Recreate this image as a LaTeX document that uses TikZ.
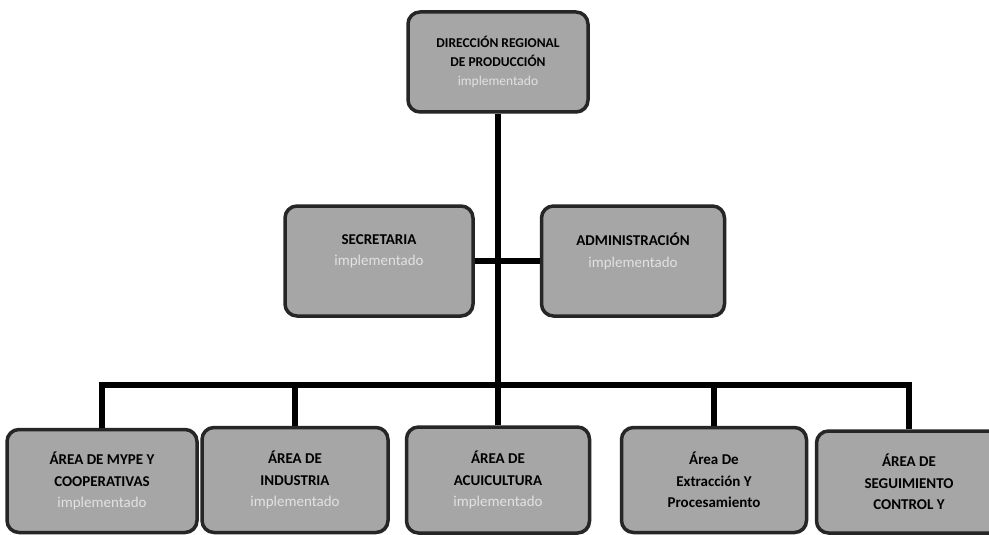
\documentclass[tikz,border=0pt]{standalone}
\usepackage{fontspec}
\setmainfont{Carlito}
\usepackage{tikz}
\usetikzlibrary{shadows}

\definecolor{boxgray}{HTML}{A6A6A6}
\definecolor{implgray}{HTML}{E2E2E2}
\newcommand{\implem}{\textcolor{implgray}{\mdseries implementado}}

\begin{document}
\begin{tikzpicture}[x=1pt,y=-1pt,
  caja/.style={draw=black!85,line width=3.5pt,rounded corners=12pt,fill=boxgray,
    align=center,font=\fontsize{15}{21.5}\selectfont\bfseries,
    drop shadow={shadow xshift=1.5pt,shadow yshift=-1.5pt,fill=gray!55}},
  linea/.style={line width=5.5pt}]
  \path[fill=white,use as bounding box] (0,0) rectangle (989,535);

  \node[caja,minimum width=180,minimum height=100,font=\fontsize{13.5}{19}\selectfont\bfseries]
    (dir) at (498,62) {DIRECCIÓN REGIONAL\\DE PRODUCCIÓN\\\implem};
  \node[caja,minimum width=188,minimum height=110] (sec) at (379,261)
    {SECRETARIA\\\implem\\\mbox{}};
  \node[caja,minimum width=183,minimum height=110] (adm) at (633,261)
    {ADMINISTRACIÓN\\\implem\\\mbox{}};

  \node[caja,minimum width=190,minimum height=103] (a1) at (102,481)
    {ÁREA DE MYPE Y\\COOPERATIVAS\\\implem};
  \node[caja,minimum width=186,minimum height=105] (a2) at (295,480)
    {ÁREA DE\\INDUSTRIA\\\implem};
  \node[caja,minimum width=183,minimum height=106] (a3) at (498,480)
    {ÁREA DE\\ACUICULTURA\\\implem};
  \node[caja,minimum width=185,minimum height=105] (a4) at (714,480)
    {Área De\\Extracción Y\\Procesamiento};
  \node[caja,minimum width=185,minimum height=102] (a5) at (909,482)
    {ÁREA DE\\SEGUIMIENTO\\CONTROL Y};

  \coordinate (bar) at (498,385);
  \draw[linea] (dir.south) -- (bar);
  \draw[linea] (sec.east) -- (adm.west);
  \draw[linea] (a1.north) |- (bar) -| (a5.north);
  \draw[linea] (a2.north) -- (a2.north |- bar);
  \draw[linea] (a3.north) -- (a3.north |- bar);
  \draw[linea] (a4.north) -- (a4.north |- bar);
\end{tikzpicture}
\end{document}
